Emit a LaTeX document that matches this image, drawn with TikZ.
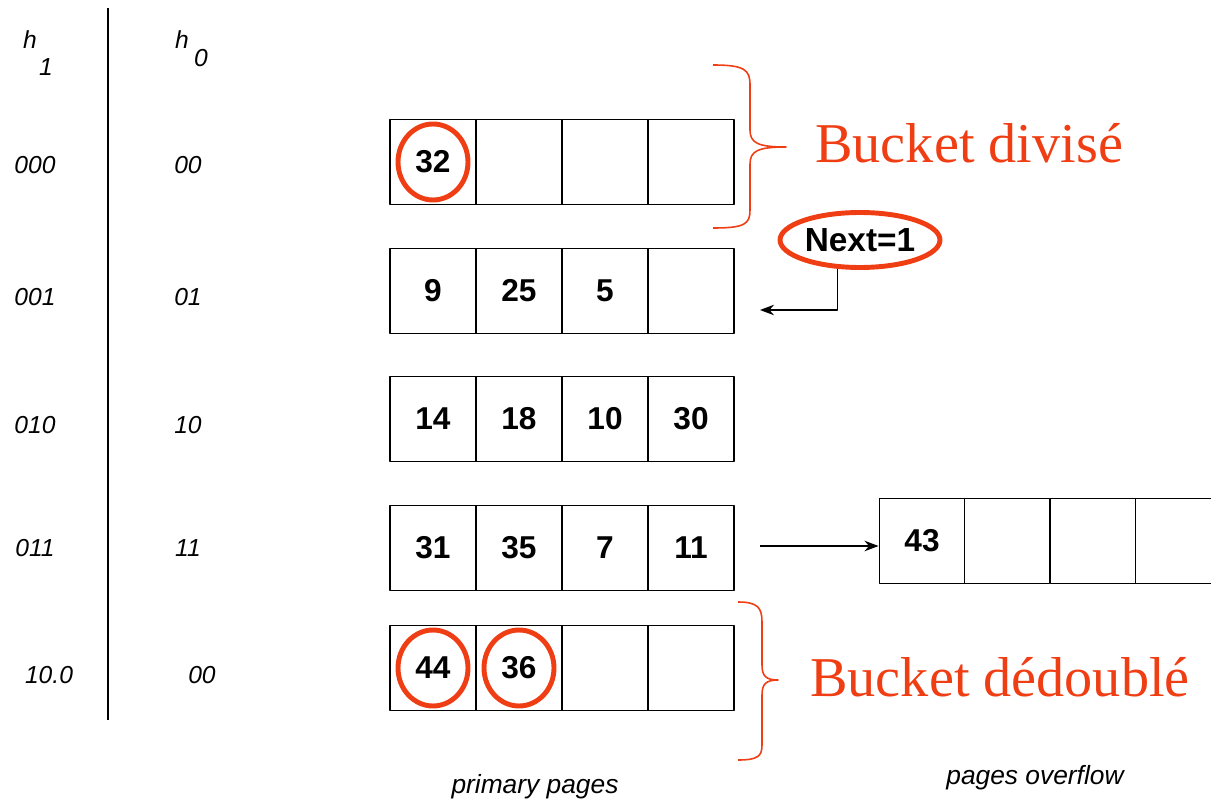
\documentclass[tikz,border=0pt]{standalone}
\usepackage{fontspec}
\setmainfont{Liberation Serif}
\setsansfont{Liberation Sans}
\usetikzlibrary{positioning,shapes.geometric,arrows.meta}
\definecolor{hilite}{RGB}{240,62,20}
\begin{document}
\begin{tikzpicture}[x=0.02cm, y=-0.02cm, line join=round, >={Stealth[length=8pt,width=6pt]},
	cell/.style={draw, line width=1.1pt, minimum width=1.72cm, minimum height=1.7cm, inner sep=0pt, font=\sffamily\bfseries\fontsize{18}{18}\selectfont},
	ring/.style={draw=hilite, line width=2.8pt, ellipse, minimum width=1.4cm, minimum height=1.52cm, inner sep=0pt},
	hash/.style={font=\sffamily\itshape\fontsize{14}{14}\selectfont},
	note/.style={text=hilite, font=\fontsize{32}{32}\selectfont, anchor=west, inner sep=0pt}]
	\useasboundingbox (0,0) rectangle (1211,804);
	\clip (0,0) rectangle (1211,804);
	% hash columns
	\draw[line width=1.1pt] (108,8)--(108,720);
	\node[hash] (hA) at (30,40) {h};
	\node[hash] (hA1) at (46,67) {1};
	\node[hash] (hB) at (182,40) {h};
	\node[hash] (hB0) at (201,58) {0};
	\foreach \y/\p/\q/\s [count=\r from 0] in {165/000/00/0, 297/001/01/0, 425/010/10/0, 548/011/11/0, 675/10.0/00/14}
	{
		\node[hash] (p\r) at (35+\s,\y) {\p};
		\node[hash] (q\r) at (188+\s,\y) {\q};
	}
	% primary pages
	\foreach \y/\a/\b/\c/\d [count=\r from 0] in {162/32/{}/{}/{}, 291/9/25/5/{}, 419/14/18/10/30, 548/31/35/7/11, 668/44/36/{}/{}}
	{
		\node[cell] (c\r-1) at (433,\y) {\a};
		\node[cell] (c\r-2) at (519,\y) {\b};
		\node[cell] (c\r-3) at (605,\y) {\c};
		\node[cell] (c\r-4) at (691,\y) {\d};
	}
	\foreach \c in {c0-1, c4-1, c4-2}
		\node[ring] (ring-\c) at (\c) {};
	% overflow page
	\foreach \x/\v [count=\k] in {922/43, 1007/{}, 1093/{}, 1178/{}}
		\node[cell, minimum width=1.7cm] (o\k) at (\x,541) {\v};
	\coordinate (ov) at (760,546);
	\draw[->, line width=0.8pt] (ov) -- (ov -| o1.west);
	% next pointer
	\node[ring, minimum width=3.2cm, minimum height=1.1cm, font=\sffamily\bfseries\fontsize{19}{19}\selectfont] (next) at (860,240) {Next=1};
	\coordinate (nx) at (760,310);
	\draw[->, line width=0.8pt] (next.232) |- (nx);
	% braces
	\draw[hilite, line width=0.9pt] (713,65) .. controls (745,65) and (750,70) .. (750,85) -- (750,130) .. controls (750,143) and (758,147) .. (786,147) .. controls (758,147) and (750,151) .. (750,164) -- (750,210) .. controls (750,224) and (745,228) .. (713,228);
	\draw[hilite, line width=0.9pt] (738,602) .. controls (758,602) and (762,608) .. (762,622) -- (762,665) .. controls (762,676) and (766,680) .. (778,680) .. controls (766,680) and (762,684) .. (762,695) -- (762,745) .. controls (762,756) and (758,760) .. (738,760);
	\node[note] (split) at (815,143) {Bucket divisé};
	\node[note] (twin) at (810,677) {Bucket dédoublé};
	% captions
	\node[hash, font=\sffamily\itshape\fontsize{15}{15}\selectfont] (prim) at (535,787) {primary pages};
	\node[hash, font=\sffamily\itshape\fontsize{15}{15}\selectfont] (ovf) at (1035,778) {pages overflow};
\end{tikzpicture}
\end{document}
